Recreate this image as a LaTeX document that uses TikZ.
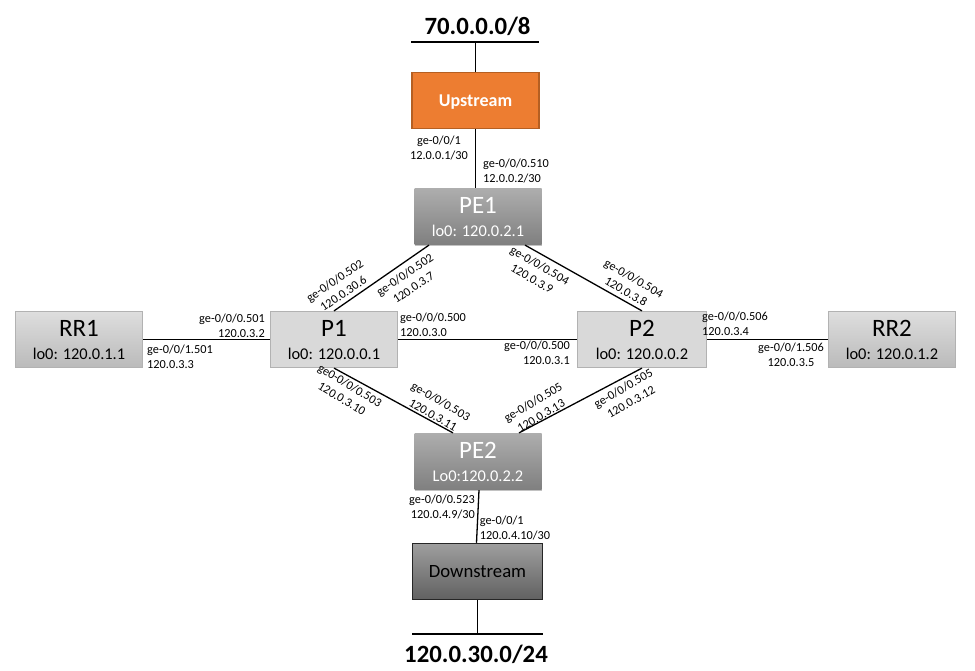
\documentclass[tikz,border=0pt]{standalone}
\usepackage{fontspec}
\setmainfont{Carlito}
\usetikzlibrary{shadows}
\definecolor{upfill}{HTML}{ED7D31}
\definecolor{upedge}{HTML}{B55F22}
\begin{document}
\begin{tikzpicture}[x=1pt, y=-1pt,
  router/.style = {shape=rectangle, draw=black!30, line width=1.2pt, align=center,
    minimum width=127pt, minimum height=56pt, inner sep=0pt, text=black, text depth=0pt, font=\fontsize{16.4}{23}\selectfont},
  prouter/.style = {router, top color=black!15, bottom color=black!15},
  rrouter/.style = {router, top color=black!13, bottom color=black!27},
  perouter/.style = {router, draw=none, text=white, top color=black!32, bottom color=black!50,
    drop shadow={shadow xshift=0pt, shadow yshift=-1.5pt, fill=black!40, opacity=.6}},
  link/.style = {draw=black, line width=1.3pt},
  port/.style = {inner sep=0pt, align=left, font=\fontsize{12.3}{15.5}\selectfont},
  netlabel/.style = {inner sep=0pt, font=\fontsize{24.8}{25}\selectfont\bfseries}]
  \newcommand{\bigname}[1]{{\fontsize{25}{28}\selectfont #1}}
  \useasboundingbox (0,0) rectangle (975,671);
  % routers
  \node[router, draw=upedge, fill=upfill, text=white, font=\fontsize{18}{20}\selectfont\bfseries] (Upstream) at (475.5,100.5) {Upstream};
  \node[perouter] (PE1) at (478,216.5) {\bigname{PE1}\\lo0: 120.0.2.1};
  \node[perouter] (PE2) at (478,461.5) {\bigname{PE2}\\Lo0:120.0.2.2};
  \node[prouter] (P1) at (334,339.5) {\bigname{P1}\\lo0: 120.0.0.1};
  \node[prouter, minimum width=129pt] (P2) at (642,339.5) {\bigname{P2}\\lo0: 120.0.0.2};
  \node[rrouter] (RR1) at (79,339.5) {\bigname{RR1}\\lo0: 120.0.1.1};
  \node[rrouter] (RR2) at (892,339.5) {\bigname{RR2}\\lo0: 120.0.1.2};
  \node[router, draw=black!85, line width=1.5pt, minimum width=130pt, top color=black!38, bottom color=black!62, font=\fontsize{18.7}{20}\selectfont] (Downstream) at (477.5,571.5) {Downstream};
  % prefixes
  \coordinate (topL) at (411,42);
  \coordinate (topR) at (539,42);
  \coordinate (botL) at (412,634);
  \coordinate (botR) at (543,634);
  \node[netlabel] (top) at (477.5,26) {70.0.0.0/8};
  \node[netlabel] (bot) at (476,654) {120.0.30.0/24};
  \draw[link] (topL) -- (topR);
  \draw[link] (botL) -- (botR);
  \draw[link] (Upstream.north |- topL) -- (Upstream.north);
  \draw[link] (Upstream.south) -- (Upstream.south |- PE1.north);
  \draw[link] (Downstream.south) -- (Downstream.south |- botL);
  \draw[link] ([xshift=1pt]PE2.south) -- ([xshift=-1pt]Downstream.north);
  % links
  \draw[link] ([xshift=-49pt]PE1.south) -- (P1.north);
  \draw[link] ([xshift=47pt]PE1.south) -- (P2.north);
  \draw[link] (P1.south) -- ([xshift=-25pt]PE2.north);
  \draw[link] (P2.south) -- ([xshift=41pt]PE2.north);
  \draw[link] (RR1) -- (P1);
  \draw[link] (P1) -- (P2);
  \draw[link] (P2) -- (RR2);
  % ports
  \node[port, align=center] (l1) at (439,148) {ge-0/0/1\\12.0.0.1/30};
  \node[port] (l2) at (516,171) {ge-0/0/0.510\\12.0.0.2/30};
  \node[port, align=center, rotate=34] (l3) at (339,287) {ge-0/0/0.502\\120.0.30.6};
  \node[port, align=center, rotate=34] (l4) at (409,281) {ge-0/0/0.502\\120.0.3.7};
  \node[port, align=center, rotate=-30] (l5) at (536,272) {ge-0/0/0.504\\120.0.3.9};
  \node[port, align=center, rotate=-30] (l6) at (630,285) {ge-0/0/0.504\\120.0.3.8};
  \node[port, align=right] (l7) at (232,326) {ge-0/0/0.501\\120.0.3.2};
  \node[port] (l8) at (180,357) {ge-0/0/1.501\\120.0.3.3};
  \node[port] (l9) at (433,325) {ge-0/0/0.500\\120.0.3.0};
  \node[port, align=right] (l10) at (537,353) {ge-0/0/0.500\\120.0.3.1};
  \node[port] (l11) at (735,324) {ge-0/0/0.506\\120.0.3.4};
  \node[port, align=center] (l12) at (791,355) {ge-0/0/1.506\\120.0.3.5};
  \node[port, align=center, rotate=-31] (l13) at (346,392) {ge0-0/0/0.503\\120.0.3.10};
  \node[port, align=center, rotate=-30] (l14) at (437,408) {ge-0/0/0.503\\120.0.3.11};
  \node[port, align=center, rotate=31] (l15) at (537,409) {ge-0/0/0.505\\120.0.3.13};
  \node[port, align=center, rotate=30] (l16) at (627,395) {ge-0/0/0.505\\120.0.3.12};
  \node[port, align=right] (l17) at (442,507) {ge-0/0/0.523\\120.0.4.9/30};
  \node[port] (l18) at (515,528) {ge-0/0/1\\120.0.4.10/30};
\end{tikzpicture}
\end{document}
